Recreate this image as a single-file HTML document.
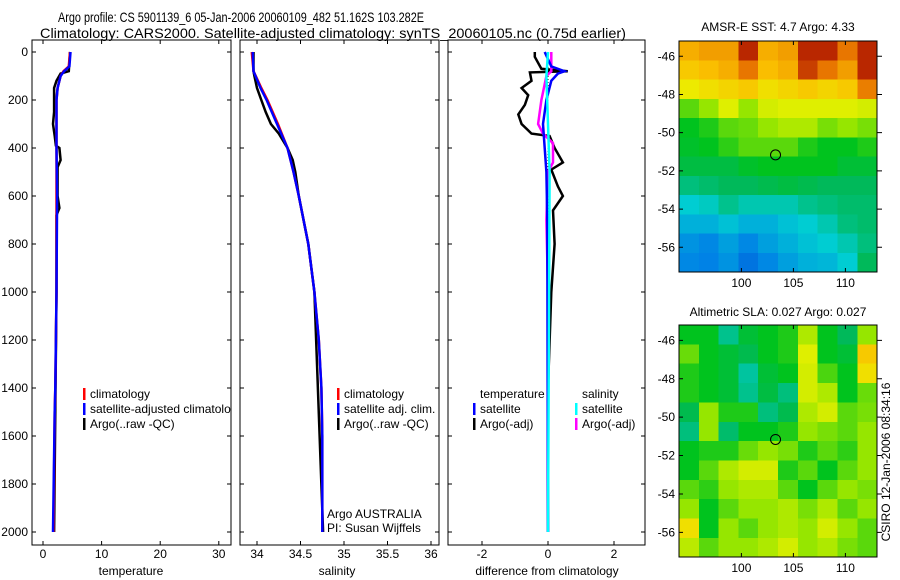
<!DOCTYPE html>
<html><head><meta charset="utf-8">
<style>
html,body{margin:0;padding:0;background:#fff;}
svg{display:block;font-family:"Liberation Sans",sans-serif;}
text{font-size:12px;fill:#000;}
text.ttl{font-size:14px;}
</style></head>
<body>
<svg id="chart" width="900" height="580" viewBox="0 0 900 580" xmlns="http://www.w3.org/2000/svg">
<text class="ttl" x="58" y="22" textLength="366" lengthAdjust="spacingAndGlyphs">Argo profile: CS 5901139_6 05-Jan-2006 20060109_482 51.162S 103.282E</text>
<text class="ttl" x="40" y="38" textLength="586" lengthAdjust="spacingAndGlyphs">Climatology: CARS2000. Satellite-adjusted climatology: synTS_20060105.nc (0.75d earlier)</text>
<defs>
<clipPath id="c1"><rect x="32" y="40" width="199" height="505"/></clipPath>
<clipPath id="c2"><rect x="240" y="40" width="199" height="505"/></clipPath>
<clipPath id="c3"><rect x="448" y="40" width="197" height="505"/></clipPath>
<clipPath id="m1"><rect x="679" y="41" width="198" height="231"/></clipPath>
<clipPath id="m2"><rect x="679" y="325" width="198" height="232"/></clipPath>
</defs>
<g id="g1"></g>
<g id="g2"></g>
<g id="g3"></g>
<g id="gm1"></g>
<g id="gm2"></g>
<text x="778" y="31" text-anchor="middle">AMSR-E SST: 4.7 Argo: 4.33</text>
<text x="778" y="316" text-anchor="middle">Altimetric SLA: 0.027 Argo: 0.027</text>
<text transform="translate(890,462) rotate(-90)" text-anchor="middle">CSIRO 12-Jan-2006 08:34:16</text>
</svg>
<script>
// ---- data ----
const climTempDepth = [0,60,80,100,150,200,400,600,1000,1400,1500,2000];
const climTemp      = [4.6,4.4,3.5,3.0,2.5,2.3,2.3,2.3,2.3,2.1,2.0,1.8];
const satTemp       = [4.7,4.5,3.6,3.0,2.5,2.3,2.3,2.4,2.3,2.1,2.0,1.7];
const argoTempDepth = [0,80,90,120,150,250,300,350,390,400,450,480,600,650,680,1000,1500,2000];
const argoTemp      = [4.6,4.4,3.0,2.3,1.9,1.9,1.7,2.0,2.2,2.8,3.0,2.5,2.5,2.8,2.3,2.3,2.1,1.9];
const climSalDepth  = [0,80,150,200,300,400,500,600,800,1000,1200,1400,1600,2000];
const climSal       = [33.94,33.96,34.05,34.12,34.24,34.35,34.42,34.48,34.59,34.66,34.71,34.74,34.75,34.75];
const satSal        = [33.95,33.96,34.04,34.11,34.23,34.35,34.42,34.48,34.59,34.66,34.71,34.74,34.75,34.75];
const argoSalDepth  = [0,80,100,150,200,250,300,340,400,450,500,600,800,1000,2000];
const argoSal       = [33.96,33.96,33.97,34.0,34.05,34.1,34.16,34.25,34.35,34.41,34.44,34.48,34.59,34.66,34.76];
const diffArgoTDepth= [0,20,70,80,85,120,150,180,220,260,300,340,350,400,460,490,560,600,660,800,1000,1400,2000];
const diffArgoT     = [-0.4,-0.4,-0.2,0.6,-0.55,-0.5,-0.8,-0.6,-0.7,-0.9,-0.8,-0.5,0.05,0.2,0.45,0.1,0.3,0.45,0.15,0.2,0.1,0.0,0.0];
const diffArgoSDepth= [0,80,100,200,300,340,380,460,500,700,1000,2000];
const diffArgoS     = [0.1,0.1,-0.05,-0.2,-0.3,-0.15,0.15,0.15,0.0,-0.05,0.0,0.0];
const diffSatTDepth = [0,60,80,90,120,200,300,400,500,700,2000];
const diffSatT      = [-0.1,0.1,0.5,0.3,0.1,-0.05,-0.15,-0.1,-0.05,-0.02,0.0];
const diffSatSDepth = [0,100,300,500,2000];
const diffSatS      = [0.0,-0.05,0.0,0.05,0.0];
const depthTicks = [0,200,400,600,800,1000,1200,1400,1600,1800,2000];
const tempTicks = [0,10,20,30];
const salTicks = [34,34.5,35,35.5,36];
const salTickLabels = ["34","34.5","35","35.5","36"];
const diffTicks = [-2,0,2];
const latTicks = [-46,-48,-50,-52,-54,-56];
const lonTicks = [100,105,110];
const sstGrid = [
[.78,.8,.8,.95,.78,.8,.95,.95,.85,.95],
[.74,.76,.78,.85,.76,.78,.92,.85,.8,.95],
[.68,.7,.72,.74,.7,.72,.74,.72,.74,.84],
[.56,.6,.66,.6,.65,.66,.66,.66,.66,.65],
[.5,.52,.56,.57,.6,.62,.62,.58,.6,.58],
[.49,.5,.53,.56,.56,.56,.52,.5,.5,.52],
[.47,.47,.47,.49,.5,.5,.5,.5,.48,.48],
[.43,.44,.45,.45,.46,.47,.46,.45,.45,.45],
[.38,.39,.42,.4,.4,.4,.42,.43,.44,.44],
[.33,.33,.36,.33,.33,.36,.38,.4,.43,.44],
[.28,.26,.3,.26,.3,.33,.36,.38,.4,.43],
[.26,.25,.28,.2,.26,.3,.33,.34,.38,.45]];
const slaGrid = [
[.5,.5,.42,.48,.5,.52,.62,.5,.45,.6],
[.57,.5,.48,.46,.5,.52,.66,.5,.48,.74],
[.52,.5,.48,.41,.48,.5,.65,.55,.5,.7],
[.52,.5,.48,.42,.47,.43,.65,.62,.5,.57],
[.46,.6,.52,.52,.43,.46,.62,.65,.56,.58],
[.43,.6,.44,.5,.5,.52,.6,.58,.56,.6],
[.5,.52,.52,.57,.6,.58,.52,.56,.53,.6],
[.5,.56,.62,.65,.65,.52,.56,.5,.56,.6],
[.56,.53,.6,.62,.62,.56,.5,.56,.6,.58],
[.6,.5,.56,.6,.6,.62,.58,.62,.56,.6],
[.7,.5,.6,.56,.6,.62,.6,.65,.6,.56],
[.63,.56,.6,.6,.62,.65,.6,.62,.58,.56]];
const floatLon = 103.282, floatLat = -51.162;

// ---- helpers ----
const NS="http://www.w3.org/2000/svg";
function mk(parent,tag,attrs,txt){const e=document.createElementNS(NS,tag);for(const k in attrs)e.setAttribute(k,attrs[k]);if(txt!==undefined)e.textContent=txt;parent.appendChild(e);return e;}
const yD = d => 52 + 0.24*d;
const xT = t => 43 + 5.86*t;
const xS = s => 257 + 87*(s-34);
const xDf = v => 548 + 33*v;
const xLon = lo => 679 + (lo-94)*10.4;
const yLat1 = la => 41 + (-45.2-la)*19.1;
const yLat2 = la => 325 + (-45.2-la)*19.2;

function frame(g,x,y,w,h){const r=mk(g,'rect',{x:x,y:y,width:w,height:h,fill:'none',stroke:'#000','stroke-width':1});}
function line(g,xs,ds,fx,col,clip,w){
  const pts=xs.map((v,i)=>fx(v).toFixed(1)+','+yD(ds[i]).toFixed(1)).join(' ');
  return mk(g,'polyline',{points:pts,fill:'none',stroke:col,'stroke-width':w||2.5,'clip-path':'url(#'+clip+')'});
}
function depthAxis(g,x0,x1,labels){
  depthTicks.forEach(d=>{
    const y=yD(d);
    const t=mk(g,'path',{d:`M${x0} ${y}h4M${x1} ${y}h-4`,stroke:'#000','stroke-width':1});
    
    if(labels){const l=mk(g,'text',{x:x0-4,y:y+4,'text-anchor':'end'},String(d));}
  });
}
function xAxis(g,ticks,labels,fx,top,bot){
  ticks.forEach((v,i)=>{
    const x=fx(v);
    const t=mk(g,'path',{d:`M${x} ${bot}v-4M${x} ${top}v4`,stroke:'#000','stroke-width':1});
    
    const l=mk(g,'text',{x:x,y:bot+13,'text-anchor':'middle'},labels[i]);
    
  });
}
function legend(g,x,y,items,clip){
  items.forEach((it,i)=>{
    const yy=y+i*15;
    if(it.c){const b=mk(g,'rect',{x:x,y:yy-9,width:2.5,height:12,fill:it.c});}
    const t=mk(g,'text',{x:x+7,y:yy+1},it.t);
    if(clip)t.setAttribute('clip-path','url(#'+clip+')');
    
  });
}

// ---- panel 1: temperature ----
const g1=document.getElementById('g1');
frame(g1,32,40,199,505);
depthAxis(g1,32,231,true);
xAxis(g1,tempTicks,tempTicks.map(String),xT,40,545);
let e;
e=line(g1,argoTemp,argoTempDepth,xT,'#000','c1');
e=line(g1,climTemp,climTempDepth,xT,'#f00','c1');
e=line(g1,satTemp,climTempDepth,xT,'#00f','c1');
legend(g1,83,397,[{c:'#f00',t:'climatology'},{c:'#00f',t:'satellite-adjusted climatology'},{c:'#000',t:'Argo(..raw -QC)'}],'c1');
e=mk(g1,'text',{x:131,y:575,'text-anchor':'middle'},'temperature');

// ---- panel 2: salinity ----
const g2=document.getElementById('g2');
frame(g2,240,40,199,505);
depthAxis(g2,240,439,false);
xAxis(g2,salTicks,salTickLabels,xS,40,545);
e=line(g2,argoSal,argoSalDepth,xS,'#000','c2');
e=line(g2,climSal,climSalDepth,xS,'#f00','c2');
e=line(g2,satSal,climSalDepth,xS,'#00f','c2');
legend(g2,337,397,[{c:'#f00',t:'climatology'},{c:'#00f',t:'satellite adj. clim.'},{c:'#000',t:'Argo(..raw -QC)'}],'c2');
e=mk(g2,'text',{x:327,y:518},'Argo AUSTRALIA');
e=mk(g2,'text',{x:327,y:532},'PI: Susan Wijffels');
e=mk(g2,'text',{x:337,y:575,'text-anchor':'middle'},'salinity');

// ---- panel 3: difference ----
const g3=document.getElementById('g3');
frame(g3,448,40,197,505);
depthAxis(g3,448,645,false);
xAxis(g3,diffTicks,diffTicks.map(String),xDf,40,545);
e=mk(g3,'line',{x1:xDf(0),x2:xDf(0),y1:yD(0),y2:yD(2000),stroke:'#000','stroke-dasharray':'1,2','stroke-width':1});
e=line(g3,diffArgoT,diffArgoTDepth,xDf,'#000','c3');
e=line(g3,diffArgoS,diffArgoSDepth,xDf,'#f0f','c3');
e=line(g3,diffSatT,diffSatTDepth,xDf,'#00f','c3');
e=line(g3,diffSatS,diffSatSDepth,xDf,'#0ff','c3');
legend(g3,473,397,[{c:null,t:'temperature'},{c:'#00f',t:'satellite'},{c:'#000',t:'Argo(-adj)'}]);
legend(g3,575,397,[{c:null,t:'salinity'},{c:'#0ff',t:'satellite'},{c:'#f0f',t:'Argo(-adj)'}]);
e=mk(g3,'text',{x:547,y:575,'text-anchor':'middle'},'difference from climatology');

// ---- maps ----
const cstops=[[0,[0,60,200]],[.25,[0,130,230]],[.38,[0,205,210]],[.45,[0,185,90]],[.5,[0,195,30]],[.6,[150,230,0]],[.67,[235,240,0]],[.76,[250,190,0]],[.86,[230,110,0]],[1,[160,0,0]]];
function cmap(v){for(let i=1;i<cstops.length;i++){if(v<=cstops[i][0]){const a=cstops[i-1],b=cstops[i],f=(v-a[0])/(b[0]-a[0]);return 'rgb('+a[1].map((c,k)=>Math.round(c+(b[1][k]-c)*f)).join(',')+')';}}return 'rgb(160,0,0)';}
function map(gid,grid,yLat,clip,top,bot){
  const g=document.getElementById(gid);
  const rows=grid.length,cols=grid[0].length;
  const lon0=94,lon1=113.05,lat0=-45.2,lat1=-57.3;
  const cells=mk(g,'g',{'clip-path':'url(#'+clip+')','shape-rendering':'crispEdges'});
  
  grid.forEach((row,r)=>row.forEach((v,c)=>{
    const xa=xLon(lon0+(lon1-lon0)*c/cols),xb=xLon(lon0+(lon1-lon0)*(c+1)/cols);
    const ya=yLat(lat0+(lat1-lat0)*r/rows),yb=yLat(lat0+(lat1-lat0)*(r+1)/rows);
    const rc=mk(cells,'rect',{x:xa,y:ya,width:xb-xa+0.5,height:yb-ya+0.5,fill:cmap(v)});
    
  }));
  frame(g,679,top,198,bot-top);
  latTicks.forEach(la=>{const y=yLat(la);
    const t=mk(g,'path',{d:`M679 ${y}h4M877 ${y}h5`,stroke:'#000'});
    const l=mk(g,'text',{x:675,y:y+4,'text-anchor':'end'},String(la));});
  lonTicks.forEach(lo=>{const x=xLon(lo);
    const t=mk(g,'path',{d:`M${x} ${bot}v-4M${x} ${top}v4`,stroke:'#000'});
    const l=mk(g,'text',{x:x,y:bot+15,'text-anchor':'middle'},String(lo));});
  const ci=mk(g,'circle',{cx:xLon(floatLon),cy:yLat(floatLat),r:5,fill:'none',stroke:'#000','stroke-width':1});
  
}
map('gm1',sstGrid,yLat1,'m1',41,272);
map('gm2',slaGrid,yLat2,'m2',325,557);
</script>
</body></html>
